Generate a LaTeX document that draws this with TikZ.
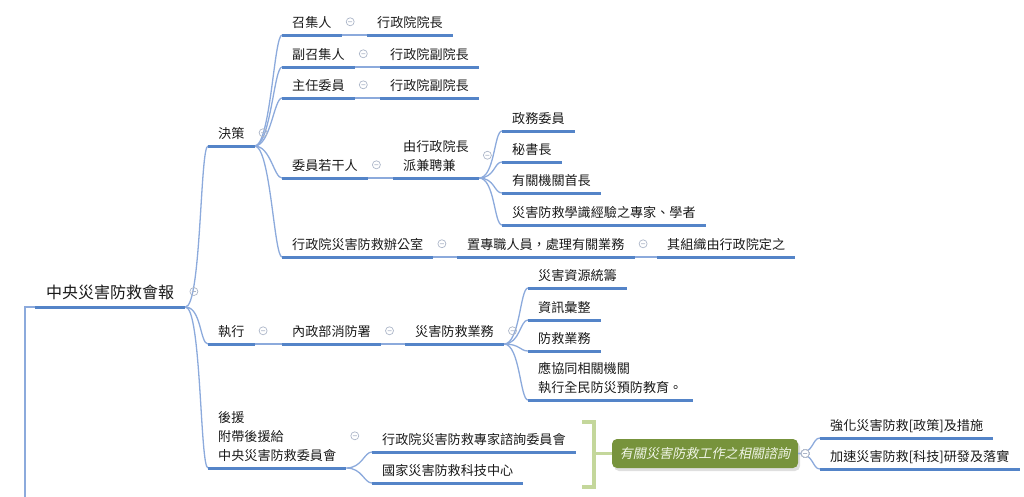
\documentclass[tikz,border=0pt]{standalone}
\usepackage{fontspec}
\newfontfamily\cjk{Noto Sans CJK TC}
\newfontfamily\cjkit[FakeSlant=0.2]{Noto Sans CJK TC}
\usetikzlibrary{shadows}

\newcommand\foldmark[1]{\draw [fold] ([xshift=8.5pt,yshift=2pt]#1.east) circle (4pt) ++(-2pt,0) -- ++(4pt,0);}

\begin{document}
\begin{tikzpicture}[x=1pt,y=1pt]
	\definecolor{txt}{RGB}{25,25,25}
	\definecolor{ublue}{RGB}{84,132,200}
	\definecolor{lblue}{RGB}{140,170,220}
	\definecolor{foldc}{RGB}{172,182,200}
	\definecolor{boxg}{RGB}{119,147,60}
	\definecolor{boxtxt}{RGB}{240,245,230}
	\definecolor{brk}{RGB}{196,215,155}
	\tikzstyle{every node}=[font=\cjk\fontsize{13.1}{19}\selectfont, text=txt]
	\tikzstyle{topic}=[anchor=south west, inner xsep=10pt, inner ysep=4pt, text depth=3pt, align=left]
	\tikzstyle{uline}=[draw=ublue, line width=3pt]
	\tikzstyle{link}=[draw=lblue, line width=1.3pt]
	\tikzstyle{branch}=[out=0, in=180, out distance=16pt, in distance=8pt]
	\tikzstyle{fold}=[draw=foldc, line width=0.7pt]
	\tikzstyle{sumbox}=[fill=boxg, rounded corners=5pt, minimum width=186pt, minimum height=29pt, text=boxtxt, font=\cjkit\fontsize{13.1}{19}\selectfont, drop shadow={shadow xshift=2pt, shadow yshift=-3pt, opacity=0.25}]
	\useasboundingbox (0,0) rectangle (1024,-496);
	
	%% main topic and its branches
	\node [topic, inner xsep=11pt, font=\cjk\fontsize{16}{20}\selectfont, inner ysep=5pt] (root) at (35.0000,-307.0000) {中央災害防救會報};
	\node [topic] (jc) at (208.0000,-146.0000) {決策};
	\node [topic] (zx) at (208.0000,-344.0000) {執行};
	\node [topic] (hy) at (208.0000,-468.0000) {後援\\附帶後援給\\中央災害防救委員會};
	
	\node [topic] (zjr) at (282.0000,-35.0000) {召集人};
	\node [topic] (fzjr) at (282.0000,-67.0000) {副召集人};
	\node [topic] (zrwy) at (282.0000,-98.0000) {主任委員};
	\node [topic] (wy) at (282.0000,-178.0000) {委員若干人};
	\node [topic] (bgs) at (282.0000,-257.0000) {行政院災害防救辦公室};
	
	\node [topic] (yz) at (367.0000,-35.0000) {行政院院長};
	\node [topic] (fyzA) at (380.0000,-67.0000) {行政院副院長};
	\node [topic] (fyzB) at (380.0000,-98.0000) {行政院副院長};
	\node [topic] (pj) at (393.0000,-178.0000) {由行政院長\\派兼聘兼};
	\node [topic] (zz) at (457.0000,-257.0000) {置專職人員，處理有關業務};
	\node [topic] (zzz) at (657.0000,-257.0000) {其組織由行政院定之};
	
	\node [topic] (zw) at (502.0000,-131.0000) {政務委員};
	\node [topic] (msz) at (502.0000,-162.0000) {秘書長};
	\node [topic] (sz) at (502.0000,-193.0000) {有關機關首長};
	\node [topic] (zj) at (502.0000,-225.0000) {災害防救學識經驗之專家、學者};
	
	\node [topic] (xfs) at (282.0000,-344.0000) {內政部消防署};
	\node [topic] (yw) at (405.0000,-344.0000) {災害防救業務};
	\node [topic] (zy) at (528.0000,-288.0000) {災害資源統籌};
	\node [topic] (zxhz) at (528.0000,-320.0000) {資訊彙整};
	\node [topic] (fjyw) at (528.0000,-351.0000) {防救業務};
	\node [topic] (jy) at (528.0000,-400.0000) {應協同相關機關\\執行全民防災預防教育。};
	
	\node [topic] (zjh) at (372.0000,-452.0000) {行政院災害防救專家諮詢委員會};
	\node [topic] (kj) at (372.0000,-483.0000) {國家災害防救科技中心};
	
	\node [sumbox] (box) at (705.0000,-453.5000) {有關災害防救工作之相關諮詢};
	\node [topic] (qh) at (820.0000,-438.0000) {強化災害防救[政策]及措施};
	\node [topic] (js) at (820.0000,-469.0000) {加速災害防救[科技]研發及落實};
	
	\coordinate (off) at (25.0000,-500.0000);
	\coordinate (brkmid) at (594.0000,-453.5000);
	
	%% connectors
	\draw [link] (root.south west) -| (off);
	\foreach \a/\b in {root/jc,root/zx,root/hy,jc/zjr,jc/fzjr,jc/zrwy,jc/wy,jc/bgs,zjr/yz,fzjr/fyzA,zrwy/fyzB,wy/pj,bgs/zz,zz/zzz,pj/zw,pj/msz,pj/sz,pj/zj,zx/xfs,xfs/yw,yw/zy,yw/zxhz,yw/fjyw,yw/jy,hy/zjh,hy/kj}
		\draw [link] (\a.south east) to[branch] (\b.south west);
	\draw [link] (box.east) to[branch] (qh.south west);
	\draw [link] (box.east) to[branch] (js.south west);
	
	\foreach \n in {root,jc,zx,hy,zjr,fzjr,zrwy,wy,bgs,yz,fyzA,fyzB,pj,zz,zzz,zw,msz,sz,zj,xfs,yw,zy,zxhz,fjyw,jy,zjh,kj,qh,js}
		\draw [uline] (\n.south west) -- (\n.south east);
	
	\draw [draw=brk, line width=3.5pt] (582.0000,-422.0000) -- (594.0000,-422.0000) -- (594.0000,-487.0000) -- (582.0000,-487.0000);
	\draw [draw=brk, line width=3.5pt] (brkmid) -- (box.west);
	
	\foreach \n in {root,jc,zjr,fzjr,zrwy,wy,pj,bgs,zz,zx,xfs,yw,hy}
		\foldmark{\n}
	\draw [fold, fill=white] ([xshift=7pt]box.east) circle (4pt) ++(-2pt,0) -- ++(4pt,0);

\end{tikzpicture}
\end{document}
